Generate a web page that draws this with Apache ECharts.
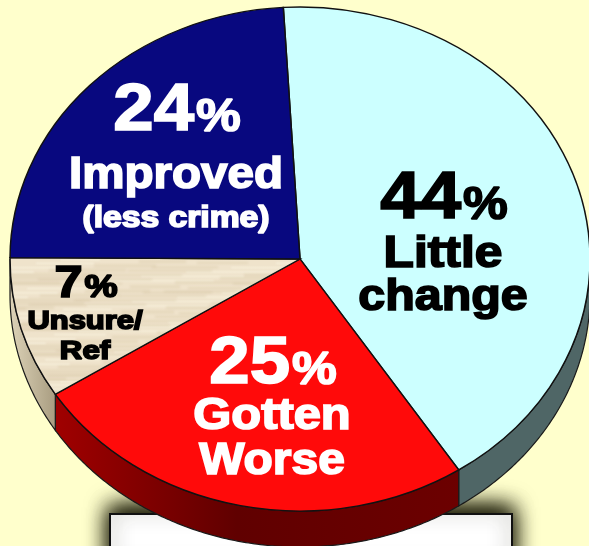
<!DOCTYPE html>
<html><head><meta charset="utf-8">
<script src="https://cdn.jsdelivr.net/npm/echarts@6/dist/echarts.min.js"></script>
<style>html,body{margin:0;padding:0;background:#FFFFCC}#c{width:589px;height:546px}</style>
</head><body><div id="c"></div>
<script>
// Data
const categories = ["Little change", "Gotten Worse", "Unsure/ Ref", "Improved (less crime)"];
const printedPercent = [44, 25, 7, 24];   // the numbers printed on the slices
const drawnShare = [41.7, 25.2, 9.1, 24]; // the share of the disc each slice really covers
const labelLines = [["Little", "change"], ["Gotten", "Worse"], ["Unsure/", "Ref"], ["Improved", "(less crime)"]];

// Styling and layout
const cx = 300, cy = 259, rx = 290, ry = 252, depth = 36;
const startFromTop = -3.3;
const topFill = ["#CCFFFF", "#FF0A0A", null, "#08087F"];
const wallFill = [
  "#4F6666",
  {type:'linear',x:0,y:0,x2:1,y2:0,colorStops:[{offset:0,color:'#A00000'},{offset:.45,color:'#600000'},{offset:1,color:'#6C0000'}]},
  {type:'linear',x:0,y:0,x2:1,y2:0,colorStops:[{offset:0,color:'#DDD3B8'},{offset:1,color:'#A89C80'}]},
  "#000"
];
const inkColor = ["#000", "#fff", "#000", "#fff"];
const labelLayout = [
  {x:443, pctY:220, pctSize:66, sym:47, dsx:1.1,  ssx:1.07, lines:[[268,44,1.13],[311,44,1.1]]},
  {x:272, pctY:385, pctSize:66, sym:47, dsx:1.1,  ssx:1.07, lines:[[430,44,1.11],[475,44,1.09]]},
  {x:85,  pctY:298, pctSize:44, sym:31, dsx:1.15, ssx:1.2,  lines:[[330,26,1.19],[360,26,1.2]]},
  {x:176, pctY:132, pctSize:66, sym:47, dsx:1.1,  ssx:1.07, lines:[[189,44,1.08],[228,29,1.16]]}
];

function woodTexture(){
  const c = document.createElement('canvas'); c.width = 240; c.height = 140;
  const g = c.getContext('2d');
  g.fillStyle = '#EFE3CB'; g.fillRect(0,0,240,140);
  g.filter = 'blur(1.2px)';
  for(let i=0;i<90;i++){
    const y = (i*37)%140, x = (i*83)%240, w = 40+(i*29)%90;
    g.fillStyle = i%3===0 ? 'rgba(255,250,235,.45)' : 'rgba(205,185,150,.22)';
    g.fillRect(x,y,w,2+(i%3));
    g.fillRect(x-240,y,w,2+(i%3));
  }
  return c;
}
const wood = {image:woodTexture(), repeat:'repeat'};

const FONT = '"Liberation Sans", Arial, sans-serif';
// zrender positions text by the top of its em box; the baseline sits 0.8em below it
function txt(s,x,baseline,size,align,color,sx){
  return {type:'text', x:x, y:baseline-0.8*size, scaleX:sx||1, z2:50, silent:true,
    style:{text:s, x:0, y:0, fill:color, stroke:color, lineWidth:1.7,
      font:'bold '+size+'px '+FONT, textAlign:align, textVerticalAlign:'top'}};
}
function point(a,dy){ return [cx+rx*Math.cos(a), cy+ry*Math.sin(a)+(dy||0)]; }

const total = drawnShare.reduce((a,b)=>a+b,0);
function renderItem(params, api){
  const i = params.dataIndex;
  let before = 0;
  for(let k=0;k<i;k++) before += drawnShare[k];
  const toRad = d => (d-90)*Math.PI/180;
  const a0 = toRad(startFromTop + before/total*360);
  const a1 = toRad(startFromTop + (before+api.value(1))/total*360);
  const children = [];
  // side wall: only the part of the rim that faces the viewer
  const w0 = Math.max(a0,0), w1 = Math.min(a1,Math.PI);
  if(w1>w0){
    const pts=[];
    const n=Math.ceil((w1-w0)/0.01);
    for(let k=0;k<=n;k++) pts.push(point(w0+(w1-w0)*k/n,0));
    for(let k=n;k>=0;k--) pts.push(point(w0+(w1-w0)*k/n,depth));
    children.push({type:'polygon',z2:1,shape:{points:pts},style:{fill:wallFill[i],stroke:'#1a1a1a',lineWidth:1.2}});
  }
  // top face
  children.push({type:'sector',x:cx,y:cy,scaleY:ry/rx,z2:5,
    shape:{cx:0,cy:0,r:rx,r0:0,startAngle:a0,endAngle:a1,clockwise:true},
    style:{fill:topFill[i]||wood,stroke:'#111',lineWidth:1.5}});
  // labels
  const L = labelLayout[i], col = inkColor[i];
  const digits = String(api.value(0));
  const digitW = L.pctSize*0.556*digits.length*L.dsx, symW = L.sym*0.889*L.ssx;
  const left = L.x-(digitW+symW)/2;
  children.push(txt(digits,left,L.pctY,L.pctSize,'left',col,L.dsx));
  children.push(txt('%',left+digitW+2,L.pctY,L.sym,'left',col,L.ssx));
  labelLines[i].forEach((s,j)=>{
    const l=L.lines[j];
    children.push(txt(s,L.x,l[0],l[1],'center',col,l[2]));
  });
  return {type:'group',children:children};
}

const chart = echarts.init(document.getElementById('c'));
const boxShape = {x:110,y:514,width:402,height:60};
chart.setOption({
  backgroundColor:'#FFFFCC',
  animation:false,
  graphic:[
    {type:'rect',z:1,silent:true,shape:boxShape,
      style:{fill:'#333',shadowBlur:24,shadowOffsetY:-7,shadowColor:'rgba(30,30,10,1)'}},
    {type:'rect',z:1,silent:true,shape:boxShape,
      style:{fill:'#fff',stroke:'#111',lineWidth:2,shadowBlur:20,shadowOffsetY:-5,shadowColor:'rgba(30,30,10,.9)'}}
  ],
  series:[{
    type:'custom',coordinateSystem:'none',z:5,silent:true,
    renderItem:renderItem,
    dimensions:['printed','drawn'],
    data:categories.map((c,i)=>({name:c,value:[printedPercent[i],drawnShare[i]]}))
  }]
});
</script></body></html>
